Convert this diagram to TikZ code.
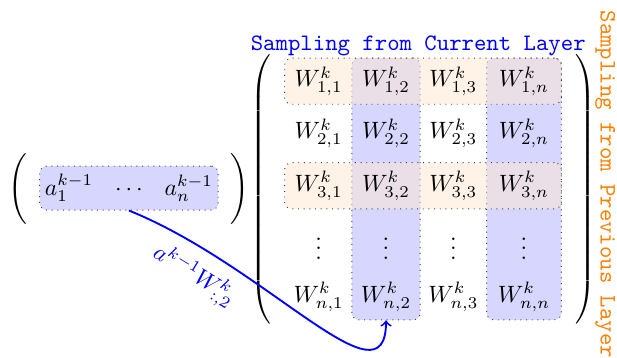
\documentclass[tikz,border=0pt]{standalone}
\usetikzlibrary{positioning, matrix, fit, backgrounds}

\begin{document}
\begin{tikzpicture}[
	x=0.4233pt, y=0.4233pt,
	% Define styles
	cell/.style={minimum width=28.5pt, minimum height=19pt, inner sep=3.4pt},
	entry/.style={minimum height=18pt, inner sep=2pt},
	rowbox/.style={draw=black!75, dotted, rounded corners=3pt, fill=orange!18, fill opacity=0.5, inner sep=0pt},
	colbox/.style={draw=black!75, dotted, rounded corners=3pt, fill=blue!16, inner sep=0pt},
	layerlbl/.style={font=\ttfamily},
	flow/.style={->, thick, blue}
	]
	
	\useasboundingbox (0,0) rectangle (617,358);
	
	% 1. Weight matrix of layer k
	\matrix (W) at (423,169) [matrix of math nodes, nodes={cell}, column 4/.style={nodes={minimum width=31.3pt}},
		row sep=3pt, inner xsep=4.6pt, left delimiter=(, right delimiter=)] {
		W^k_{1,1} & W^k_{1,2} & W^k_{1,3} & W^k_{1,n} \\
		W^k_{2,1} & W^k_{2,2} & W^k_{2,3} & W^k_{2,n} \\
		W^k_{3,1} & W^k_{3,2} & W^k_{3,3} & W^k_{3,n} \\
		\vdots & \vdots & \vdots & \vdots \\
		W^k_{n,1} & W^k_{n,2} & W^k_{n,3} & W^k_{n,n} \\
	};
	
	% 2. Activations of layer k-1
	\matrix (vec) [matrix of math nodes, nodes={entry}, column sep=5.3pt, inner xsep=4pt, inner ysep=6.2pt,
		left delimiter=(, right delimiter=), left=19.5pt of W] {
		a^{k-1}_1 & \cdots & a^{k-1}_n \\
	};
	
	% Highlighted rows and columns
	\begin{scope}[on background layer]
		\node[colbox, fit=(W-1-2)(W-5-2)] (coltwo) {};
		\node[colbox, fit=(W-1-4)(W-5-4)] (coln) {};
		\node[rowbox, fit=(W-1-1)(W-1-4)] (rowone) {};
		\node[rowbox, fit=(W-3-1)(W-3-4)] (rowthree) {};
		\node[colbox, fit=(vec-1-1)(vec-1-3)] (vecbox) {};
	\end{scope}
	
	% 3. Labels
	\node[layerlbl, blue, above=-5.8pt of W, xshift=-2pt] (curlbl) {Sampling from Current Layer};
	\node[layerlbl, orange, rotate=-90] (prevlbl) at ([xshift=14pt, yshift=2pt]W.east) {Sampling from Previous Layer};
	
	% Product of the activations with column 2
	\draw[flow] (vecbox.south) to[out=-22, in=-90, out distance=63pt, in distance=38pt]
		node[pos=0.2, sloped, below=2pt] {$a^{k-1}W^k_{:,2}$} (coltwo.south);
\end{tikzpicture}
\end{document}
